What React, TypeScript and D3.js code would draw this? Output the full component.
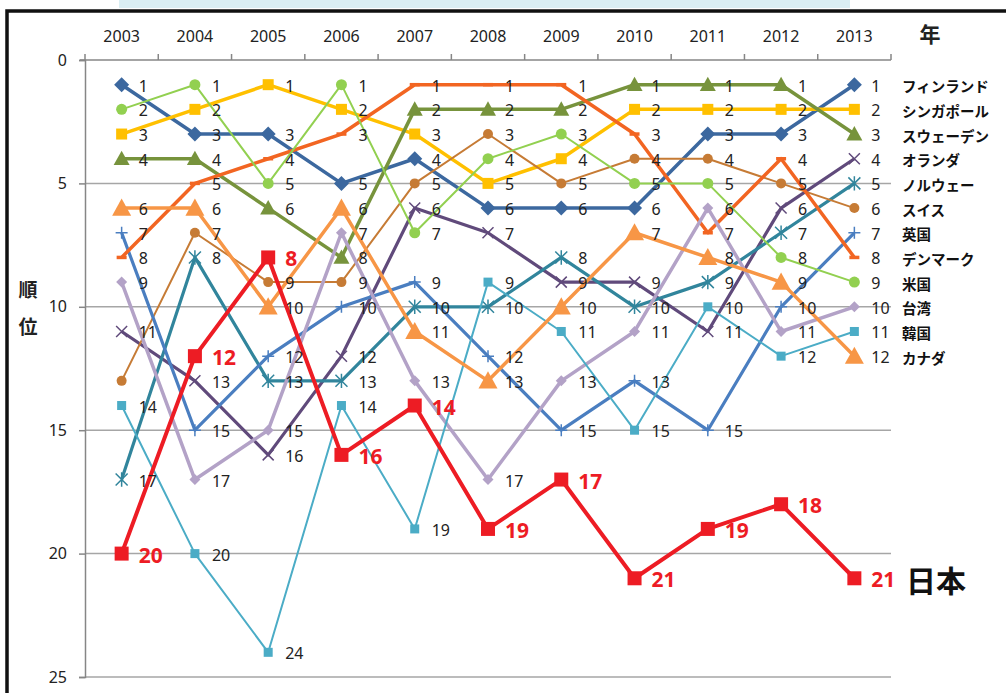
import { useEffect, useRef } from "react"
import * as d3 from "d3"

const years = ["2003", "2004", "2005", "2006", "2007", "2008", "2009", "2010", "2011", "2012", "2013"]
const rankTicks = [0, 5, 10, 15, 20, 25]

const finland = [1, 3, 3, 5, 4, 6, 6, 6, 3, 3, 1]
const singapore = [3, 2, 1, 2, 3, 5, 4, 2, 2, 2, 2]
const sweden = [4, 4, 6, 8, 2, 2, 2, 1, 1, 1, 3]
const netherlands = [11, 13, 16, 12, 6, 7, 9, 9, 11, 6, 4]
const norway = [17, 8, 13, 13, 10, 10, 8, 10, 9, 7, 5]
const swiss = [13, 7, 9, 9, 5, 3, 5, 4, 4, 5, 6]
const uk = [7, 15, 12, 10, 9, 12, 15, 13, 15, 10, 7]
const denmark = [8, 5, 4, 3, 1, 1, 1, 3, 7, 4, 8]
const usa = [2, 1, 5, 1, 7, 4, 3, 5, 5, 8, 9]
const taiwan = [9, 17, 15, 7, 13, 17, 13, 11, 6, 11, 10]
const korea = [14, 20, 24, 14, 19, 9, 11, 15, 10, 12, 11]
const canada = [6, 6, 10, 6, 11, 13, 10, 7, 8, 9, 12]
const japan = [20, 12, 8, 16, 14, 19, 17, 21, 19, 18, 21]

type Marker = "diamond" | "square" | "triangle" | "x" | "star" | "circle" | "plus" | "dash"

interface Series {
    name: string
    values: number[]
    color: string
    width: number
    marker: Marker
    size: number
    hideLabels?: number[]
}

const series: Series[] = [
    { name: "フィンランド", values: finland, color: "#3C689F", width: 3.5, marker: "diamond", size: 7.5 },
    { name: "シンガポール", values: singapore, color: "#FFC000", width: 3.5, marker: "square", size: 5.5 },
    { name: "スウェーデン", values: sweden, color: "#77933C", width: 3.5, marker: "triangle", size: 8 },
    { name: "オランダ", values: netherlands, color: "#604A7B", width: 3.2, marker: "x", size: 5.5 },
    { name: "ノルウェー", values: norway, color: "#31859C", width: 3.2, marker: "star", size: 6 },
    { name: "スイス", values: swiss, color: "#C67B35", width: 2, marker: "circle", size: 5, hideLabels: [0] },
    { name: "英国", values: uk, color: "#4A7EC0", width: 3.2, marker: "plus", size: 6 },
    { name: "デンマーク", values: denmark, color: "#F26522", width: 3.5, marker: "dash", size: 5 },
    { name: "米国", values: usa, color: "#92D050", width: 2, marker: "circle", size: 5.5 },
    { name: "台湾", values: taiwan, color: "#B3A2C7", width: 3.5, marker: "diamond", size: 5.5 },
    { name: "韓国", values: korea, color: "#4BACC6", width: 2, marker: "square", size: 4.5 },
    { name: "カナダ", values: canada, color: "#F79646", width: 3.5, marker: "triangle", size: 9.5 },
]

const japanSeries: Series = { name: "日本", values: japan, color: "#ED1C24", width: 4, marker: "square", size: 7 }

const FONT = "'Noto Sans', 'DejaVu Sans', sans-serif"
const JP_FONT = "'Noto Sans CJK JP', 'Noto Sans', sans-serif"

function drawMarker(g: any, m: Marker, cx: number, cy: number, s: number, color: string) {
    if (m === "diamond") {
        g.append("path").attr("d", `M${cx},${cy - s}L${cx + s},${cy}L${cx},${cy + s}L${cx - s},${cy}Z`).attr("fill", color)
    } else if (m === "square") {
        g.append("rect").attr("x", cx - s).attr("y", cy - s).attr("width", 2 * s).attr("height", 2 * s).attr("fill", color)
    } else if (m === "triangle") {
        g.append("path")
            .attr("d", `M${cx},${cy - s}L${cx + s},${cy + s * 0.8}L${cx - s},${cy + s * 0.8}Z`)
            .attr("fill", color)
    } else if (m === "circle") {
        g.append("circle").attr("cx", cx).attr("cy", cy).attr("r", s).attr("fill", color)
    } else if (m === "x") {
        g.append("path")
            .attr("d", `M${cx - s},${cy - s}L${cx + s},${cy + s}M${cx - s},${cy + s}L${cx + s},${cy - s}`)
            .attr("stroke", color).attr("stroke-width", 1.5)
    } else if (m === "plus") {
        g.append("path")
            .attr("d", `M${cx - s},${cy}L${cx + s},${cy}M${cx},${cy - s}L${cx},${cy + s}`)
            .attr("stroke", color).attr("stroke-width", 1.5)
    } else if (m === "star") {
        g.append("path")
            .attr("d", `M${cx - s},${cy - s}L${cx + s},${cy + s}M${cx - s},${cy + s}L${cx + s},${cy - s}M${cx},${cy - s * 1.2}L${cx},${cy + s * 1.2}`)
            .attr("stroke", color).attr("stroke-width", 1.5)
    } else if (m === "dash") {
        g.append("path").attr("d", `M${cx - s},${cy}L${cx + s},${cy}`).attr("stroke", color).attr("stroke-width", 3.5)
    }
}

export default function App() {
    const ref = useRef<SVGSVGElement>(null)

    useEffect(() => {
        const svg = d3.select(ref.current)
        svg.selectAll("*").remove()

        const width = 1006
        const height = 693
        const margin = { top: 60, right: 115, bottom: 16, left: 85 }

        const x = d3.scaleBand<string>()
            .domain(years)
            .range([margin.left, width - margin.right])
            .padding(0)

        const y = d3.scaleLinear()
            .domain([0, 25])
            .range([margin.top, height - margin.bottom])

        const cx = (i: number) => (x(years[i]) ?? 0) + x.bandwidth() / 2

        // page frame
        svg.append("rect").attr("x", 119).attr("y", 0).attr("width", 731).attr("height", 8).attr("fill", "#DAEEF3")
        svg.append("path")
            .attr("d", `M7,${height}L7,11L${width},11`)
            .attr("fill", "none")
            .attr("stroke", "#111")
            .attr("stroke-width", 3.5)

        // gridlines
        svg.append("g")
            .selectAll("line")
            .data(rankTicks.filter(d => d > 0))
            .join("line")
            .attr("x1", margin.left)
            .attr("x2", width - margin.right)
            .attr("y1", d => y(d))
            .attr("y2", d => y(d))
            .attr("stroke", "#A6A6A6")
            .attr("stroke-width", 1.5)

        // y axis
        const yAxis = svg.append("g")
            .attr("transform", `translate(${margin.left},0)`)
            .call(d3.axisLeft(y).tickValues(rankTicks).tickSize(6).tickPadding(12))
        yAxis.select(".domain").attr("stroke", "#868686").attr("stroke-width", 1.5)
        yAxis.selectAll(".tick line").attr("stroke", "#868686").attr("stroke-width", 1.5)
        yAxis.selectAll("text").attr("font-family", FONT).attr("font-size", 16).attr("fill", "#222")

        // x axis on top
        const xAxis = svg.append("g")
            .attr("transform", `translate(0,${margin.top})`)
            .call(d3.axisTop(x).tickSize(0).tickPadding(18))
        xAxis.select(".domain").remove()
        xAxis.selectAll("text").attr("font-family", FONT).attr("font-size", 16).attr("fill", "#222")
        svg.append("line")
            .attr("x1", margin.left - 5)
            .attr("x2", width - margin.right)
            .attr("y1", margin.top)
            .attr("y2", margin.top)
            .attr("stroke", "#868686")
            .attr("stroke-width", 1.5)
        svg.append("g")
            .selectAll("line")
            .data(d3.range(years.length + 1))
            .join("line")
            .attr("x1", i => margin.left + i * x.bandwidth())
            .attr("x2", i => margin.left + i * x.bandwidth())
            .attr("y1", margin.top)
            .attr("y2", margin.top - 6)
            .attr("stroke", "#868686")
            .attr("stroke-width", 1.5)

        // axis titles
        svg.append("text")
            .attr("x", 930).attr("y", 42)
            .attr("text-anchor", "middle")
            .attr("font-family", JP_FONT).attr("font-weight", 700).attr("font-size", 21)
            .attr("fill", "#222")
            .text("年")
        svg.append("text")
            .attr("x", 28).attr("y", 297)
            .attr("text-anchor", "middle")
            .attr("font-family", JP_FONT).attr("font-weight", 700).attr("font-size", 19)
            .attr("fill", "#222")
            .text("順")
        svg.append("text")
            .attr("x", 28).attr("y", 334)
            .attr("text-anchor", "middle")
            .attr("font-family", JP_FONT).attr("font-weight", 700).attr("font-size", 19)
            .attr("fill", "#222")
            .text("位")

        const line = d3.line<number>()
            .x((_, i) => cx(i))
            .y(d => y(d))

        const drawSeries = (s: Series) => {
            const g = svg.append("g")
            g.append("path")
                .datum(s.values)
                .attr("fill", "none")
                .attr("stroke", s.color)
                .attr("stroke-width", s.width)
                .attr("stroke-linejoin", "round")
                .attr("d", line)
            s.values.forEach((v, i) => drawMarker(g, s.marker, cx(i), y(v), s.size, s.color))
        }

        series.forEach(drawSeries)
        drawSeries(japanSeries)

        // data labels
        const labels = svg.append("g")
        series.forEach(s => {
            s.values.forEach((v, i) => {
                if (s.hideLabels && s.hideLabels.includes(i)) return
                labels.append("text")
                    .attr("x", cx(i) + 17)
                    .attr("y", y(v) + 1)
                    .attr("dominant-baseline", "central")
                    .attr("font-family", FONT)
                    .attr("font-size", 16)
                    .attr("fill", "#222")
                    .text(v)
            })
        })
        japanSeries.values.forEach((v, i) => {
            labels.append("text")
                .attr("x", cx(i) + 17)
                .attr("y", y(v) + 1)
                .attr("dominant-baseline", "central")
                .attr("font-family", FONT)
                .attr("font-weight", 700)
                .attr("font-size", 21)
                .attr("fill", japanSeries.color)
                .text(v)
        })

        // series names at right end
        const last = years.length - 1
        series.forEach(s => {
            svg.append("text")
                .attr("x", 902)
                .attr("y", y(s.values[last]) + 1)
                .attr("dominant-baseline", "central")
                .attr("font-family", JP_FONT)
                .attr("font-weight", 700)
                .attr("font-size", 14.5)
                .attr("fill", "#111")
                .text(s.name)
        })
        svg.append("text")
            .attr("x", 906)
            .attr("y", y(japan[last]) + 1)
            .attr("dominant-baseline", "central")
            .attr("font-family", JP_FONT)
            .attr("font-weight", 600)
            .attr("font-size", 30)
            .attr("fill", "#111")
            .text("日本")
    }, [])

    return (
        <svg
            ref={ref}
            width={1006}
            height={693}
            style={{ position: "absolute", left: 0, top: 0, background: "#fff" }}
        />
    )
}
